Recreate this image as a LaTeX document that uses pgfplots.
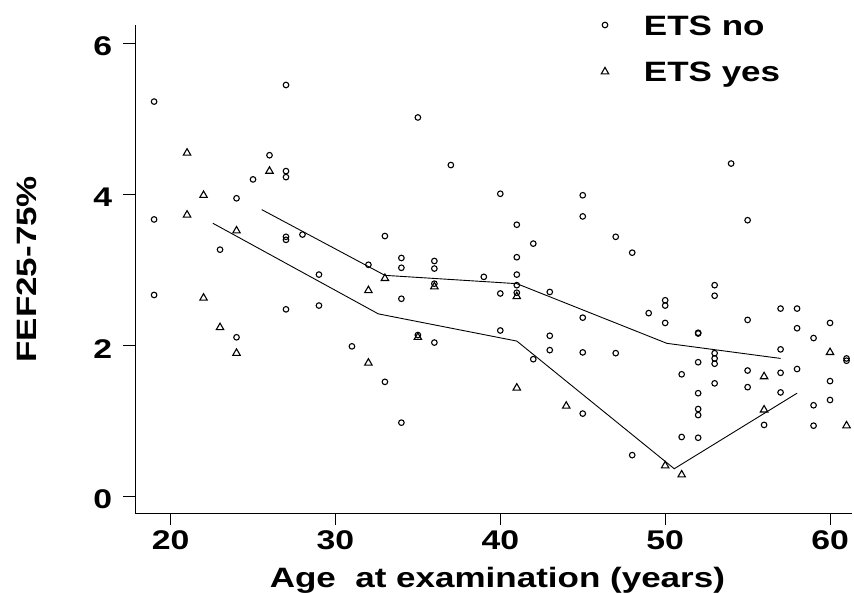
\documentclass[border=0pt]{standalone}
\usepackage{pgfplots}
\pgfplotsset{compat=1.18}
\usepackage{fontspec}
\setmainfont{Liberation Sans}[FakeStretch=1.25]
\newcommand\lblfont{\fontsize{28}{30}\selectfont\bfseries}

\begin{document}
\begin{tikzpicture}
\path[use as bounding box] (-135.3pt,-78.7pt) rectangle (718.7pt,513.3pt);
\begin{axis}[
  scale only axis,
  width=717pt, height=488pt,
  xmin=17.86, xmax=61.35, ymin=-0.22, ymax=6.24,
  axis x line*=bottom, axis y line*=left,
  axis line style={line width=1.3pt},
  xtick={20,30,...,60}, ytick={0,2,4,6},
  tick align=outside, major tick length=12pt,
  every tick/.style={line width=1pt, black},
  tick label style={font=\fontsize{27}{29}\selectfont\bfseries, inner sep=0pt},
  /pgf/number format/assume math mode=true,
  xticklabel style={anchor=north, yshift=-5pt},
  yticklabel style={anchor=east, xshift=-11pt, yshift=-3pt},
  xlabel={Age\ \ at examination (years)},
  xlabel style={at={(axis description cs:0.505,0)}, anchor=base, yshift=-74pt, font=\lblfont, inner sep=0pt},
  ylabel={FEF25-75\%},
  ylabel style={at={(axis description cs:-0.1371,0.5)}, anchor=base, font=\lblfont, inner sep=0pt},
  legend style={at={(axis description cs:0.6495,1.0211)}, anchor=north west, draw=none, fill=none,
    inner sep=0pt, outer sep=0pt, font=\lblfont, row sep=26.7pt,
    nodes={inner sep=0pt, text height=20pt, text depth=0pt}},
  legend cell align=left,
  legend image code/.code={\draw[#1] plot coordinates {(0pt,0pt)}; \path[draw=none] (-4pt,0pt) -- (39pt,0pt);},
]
% ETS no
\addplot[only marks, mark=o, mark size=2.8pt, line width=1.1pt, black] coordinates {
(19,5.23) (19,3.67) (19,2.67)
(23,3.27)
(24,3.95) (24,2.11)
(25,4.20)
(26,4.52)
(27,5.45) (27,4.31) (27,4.23) (27,3.44) (27,3.40) (27,2.48)
(28,3.47)
(29,2.94) (29,2.53)
(31,1.99)
(32,3.07)
(33,3.45) (33,1.52)
(34,3.16) (34,3.03) (34,2.62) (34,0.98)
(35,5.02) (35,2.14)
(36,3.12) (36,3.02) (36,2.82) (36,2.04)
(37,4.39)
(39,2.91)
(40,4.01) (40,2.69) (40,2.20)
(41,3.60) (41,3.17) (41,2.94) (41,2.80) (41,2.70)
(42,3.35) (42,1.82)
(43,2.71) (43,2.13) (43,1.94)
(45,3.99) (45,3.71) (45,2.37) (45,1.91) (45,1.10)
(47,3.44) (47,1.90)
(48,3.23) (48,0.55)
(49,2.43)
(50,2.60) (50,2.53) (50,2.30)
(51,1.62) (51,0.79)
(52,2.17) (52,2.16) (52,1.78) (52,1.37) (52,1.16) (52,1.08) (52,0.78)
(53,2.80) (53,2.66) (53,1.90) (53,1.83) (53,1.76) (53,1.50)
(54,4.41)
(55,3.66) (55,2.34) (55,1.67) (55,1.45)
(56,0.95)
(57,2.49) (57,1.95) (57,1.64) (57,1.38)
(58,2.49) (58,2.23) (58,1.69)
(59,2.10) (59,1.21) (59,0.94)
(60,2.30) (60,1.53) (60,1.28)
(61,1.83) (61,1.80)
};
\addlegendentry{ETS no}
% ETS yes
\addplot[only marks, mark=triangle, mark size=4.3pt, line width=1.1pt, black] coordinates {
(21,4.55) (21,3.73)
(22,3.99) (22,2.63)
(23,2.24)
(24,3.52) (24,1.90)
(26,4.31)
(32,2.73) (32,1.77)
(33,2.89)
(35,2.11)
(36,2.78)
(41,2.65) (41,1.44)
(44,1.20)
(50,0.41)
(51,0.29)
(56,1.59) (56,1.15)
(60,1.91)
(61,0.94)
};
\addlegendentry{ETS yes}
% smoothed curves
\addplot[black, line width=0.9pt, forget plot] coordinates {
(25.53,3.80) (33,2.93) (41,2.82) (50.1,2.03) (57,1.83)
};
\addplot[black, line width=0.9pt, forget plot] coordinates {
(22.56,3.62) (32.6,2.42) (41,2.06) (50.55,0.37) (58,1.37)
};
\end{axis}
\end{tikzpicture}
\end{document}
